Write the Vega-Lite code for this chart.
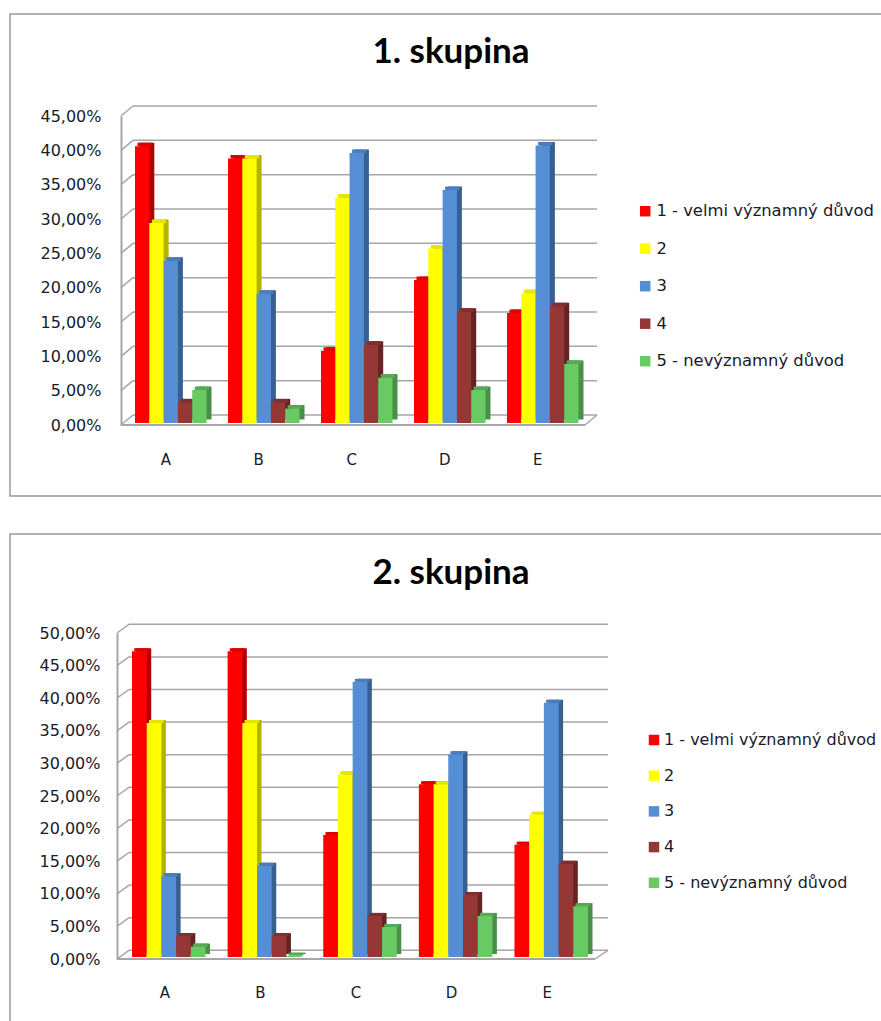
{"$schema":"https://vega.github.io/schema/vega-lite/v6.json","background":"white","padding":{"left":9,"top":13,"right":0,"bottom":0},"spacing":36,"config":{"view":{"stroke":"#9a9a9a","strokeWidth":1.5},"concat":{"spacing":36}},"datasets":{"g1":[{"group":"A","series":"1 - velmi významný důvod","value":40.3},{"group":"A","series":"2","value":29.1},{"group":"A","series":"3","value":23.6},{"group":"A","series":"4","value":3.0},{"group":"A","series":"5 - nevýznamný důvod","value":4.8},{"group":"B","series":"1 - velmi významný důvod","value":38.5},{"group":"B","series":"2","value":38.5},{"group":"B","series":"3","value":18.8},{"group":"B","series":"4","value":3.0},{"group":"B","series":"5 - nevýznamný důvod","value":2.1},{"group":"C","series":"1 - velmi významný důvod","value":10.5},{"group":"C","series":"2","value":32.8},{"group":"C","series":"3","value":39.3},{"group":"C","series":"4","value":11.4},{"group":"C","series":"5 - nevýznamný důvod","value":6.6},{"group":"D","series":"1 - velmi významný důvod","value":20.8},{"group":"D","series":"2","value":25.4},{"group":"D","series":"3","value":33.9},{"group":"D","series":"4","value":16.2},{"group":"D","series":"5 - nevýznamný důvod","value":4.8},{"group":"E","series":"1 - velmi významný důvod","value":16.0},{"group":"E","series":"2","value":18.9},{"group":"E","series":"3","value":40.4},{"group":"E","series":"4","value":17.0},{"group":"E","series":"5 - nevýznamný důvod","value":8.6}],"g2":[{"group":"A","series":"1 - velmi významný důvod","value":46.9},{"group":"A","series":"2","value":35.9},{"group":"A","series":"3","value":12.4},{"group":"A","series":"4","value":3.2},{"group":"A","series":"5 - nevýznamný důvod","value":1.6},{"group":"B","series":"1 - velmi významný důvod","value":46.9},{"group":"B","series":"2","value":35.9},{"group":"B","series":"3","value":14.0},{"group":"B","series":"4","value":3.2},{"group":"B","series":"5 - nevýznamný důvod","value":0.2},{"group":"C","series":"1 - velmi významný důvod","value":18.7},{"group":"C","series":"2","value":28.0},{"group":"C","series":"3","value":42.2},{"group":"C","series":"4","value":6.3},{"group":"C","series":"5 - nevýznamný důvod","value":4.6},{"group":"D","series":"1 - velmi významný důvod","value":26.5},{"group":"D","series":"2","value":26.5},{"group":"D","series":"3","value":31.1},{"group":"D","series":"4","value":9.5},{"group":"D","series":"5 - nevýznamný důvod","value":6.3},{"group":"E","series":"1 - velmi významný důvod","value":17.2},{"group":"E","series":"2","value":21.8},{"group":"E","series":"3","value":39.0},{"group":"E","series":"4","value":14.3},{"group":"E","series":"5 - nevýznamný důvod","value":7.8}],"t1":[{"tick":0},{"tick":5},{"tick":10},{"tick":15},{"tick":20},{"tick":25},{"tick":30},{"tick":35},{"tick":40},{"tick":45}],"t2":[{"tick":0},{"tick":5},{"tick":10},{"tick":15},{"tick":20},{"tick":25},{"tick":30},{"tick":35},{"tick":40},{"tick":45},{"tick":50}],"zero":[{"tick":0}]},"vconcat":[{"width":872,"height":482,"title":{"text":"1. skupina","font":"Lato","fontWeight":"bold","fontSize":35,"color":"#000000","anchor":"middle","dx":5,"baseline":"alphabetic","offset":-84},"resolve":{"scale":{"x":"independent","y":"independent","color":"independent","xOffset":"independent"}},"layer":[{"data":{"name":"t1"},"mark":{"type":"rule","stroke":"#a6a6a6","strokeWidth":1.5},"encoding":{"x":{"datum":0,"axis":null,"scale":{"domain":[0,1],"range":[123,587]}},"x2":{"datum":1},"y":{"field":"tick","type":"quantitative","axis":null,"scale":{"domain":[0,45],"range":[401,92]}}}},{"data":{"name":"t1"},"mark":{"type":"rule","stroke":"#a6a6a6","strokeWidth":1.5,"y2Offset":-10},"encoding":{"x":{"datum":0,"axis":null,"scale":{"domain":[0,1],"range":[111,123]}},"x2":{"datum":1},"y":{"field":"tick","type":"quantitative","scale":{"domain":[0,45],"range":[411,102]},"axis":{"title":null,"values":[0,5,10,15,20,25,30,35,40,45],"orient":"left","offset":-111,"labelExpr":"replace(format(datum.value,'.2f'),'.',',')+'%'","labelFont":"DejaVu Sans","labelFontSize":16,"labelColor":"#1a1a2a","labelPadding":20,"ticks":false,"grid":false,"domainColor":"#a6a6a6","domainWidth":2}},"y2":{"field":"tick"}}},{"data":{"name":"zero"},"mark":{"type":"rule","stroke":"#a6a6a6","strokeWidth":2},"encoding":{"x":{"datum":0,"axis":null,"scale":{"domain":[0,1],"range":[111,575]}},"x2":{"datum":1},"y":{"field":"tick","type":"quantitative","axis":null,"scale":{"domain":[0,45],"range":[411,102]}}}},{"data":{"name":"zero"},"mark":{"type":"rule","stroke":"#a6a6a6","strokeWidth":1.5,"y2Offset":-10},"encoding":{"x":{"datum":0,"axis":null,"scale":{"domain":[0,1],"range":[575,587]}},"x2":{"datum":1},"y":{"field":"tick","type":"quantitative","axis":null,"scale":{"domain":[0,45],"range":[411,102]}},"y2":{"field":"tick"}}},{"data":{"name":"g1"},"mark":{"type":"bar"},"encoding":{"x":{"field":"group","type":"nominal","axis":null,"scale":{"range":[130,573.5],"paddingInner":0.231,"paddingOuter":0}},"xOffset":{"field":"series","type":"nominal","sort":null,"scale":{"paddingInner":0,"paddingOuter":0}},"y":{"field":"value","type":"quantitative","axis":null,"scale":{"domain":[0,45],"range":[405.5,96.35]}},"y2":{"datum":0},"color":{"field":"series","type":"nominal","legend":null,"scale":{"range":["#b00000","#b3b300","#376092","#632523","#4a8f48"]}}}},{"data":{"name":"g1"},"mark":{"type":"bar","y2Offset":3.5},"encoding":{"x":{"field":"group","type":"nominal","axis":null,"scale":{"range":[127.5,571],"paddingInner":0.231,"paddingOuter":0}},"xOffset":{"field":"series","type":"nominal","sort":null,"scale":{"paddingInner":0,"paddingOuter":0}},"y":{"field":"value","type":"quantitative","axis":null,"scale":{"domain":[0,45],"range":[405.5,96.35]}},"y2":{"field":"value"},"color":{"field":"series","type":"nominal","legend":null,"scale":{"range":["#e00000","#e6e600","#4a7dbb","#7f2f2d","#57a857"]}}}},{"data":{"name":"g1"},"mark":{"type":"bar"},"encoding":{"x":{"field":"group","type":"nominal","title":null,"scale":{"range":[125,568.5],"paddingInner":0.231,"paddingOuter":0},"axis":{"orient":"bottom","offset":-71,"labelOffset":-5,"labelAngle":0,"labelPadding":27,"labelFont":"DejaVu Sans","labelFontSize":15,"labelColor":"#1a1a2a","ticks":false,"domain":false,"grid":false}},"xOffset":{"field":"series","type":"nominal","sort":null,"scale":{"paddingInner":0,"paddingOuter":0}},"y":{"field":"value","type":"quantitative","axis":null,"scale":{"domain":[0,45],"range":[409,99.85]}},"y2":{"datum":0},"color":{"field":"series","type":"nominal","scale":{"range":["#ff0000","#ffff00","#558ed5","#953735","#69c963"]},"legend":{"title":null,"orient":"none","legendX":627,"legendY":189,"symbolType":"square","symbolSize":110,"symbolStrokeWidth":0,"symbolOpacity":1,"rowPadding":20.5,"labelOffset":3,"labelFont":"DejaVu Sans","labelFontSize":16.4,"labelColor":"#1a1a2a","labelLimit":260}}}}]},{"width":872,"height":488,"title":{"text":"2. skupina","font":"Lato","fontWeight":"bold","fontSize":35,"color":"#000000","anchor":"middle","dx":5,"baseline":"alphabetic","offset":-85},"resolve":{"scale":{"x":"independent","y":"independent","color":"independent","xOffset":"independent"}},"layer":[{"data":{"name":"t2"},"mark":{"type":"rule","stroke":"#a6a6a6","strokeWidth":1.5},"encoding":{"x":{"datum":0,"axis":null,"scale":{"domain":[0,1],"range":[119,598]}},"x2":{"datum":1},"y":{"field":"tick","type":"quantitative","axis":null,"scale":{"domain":[0,50],"range":[416.3,90.3]}}}},{"data":{"name":"t2"},"mark":{"type":"rule","stroke":"#a6a6a6","strokeWidth":1.5,"y2Offset":-8.7},"encoding":{"x":{"datum":0,"axis":null,"scale":{"domain":[0,1],"range":[107,119]}},"x2":{"datum":1},"y":{"field":"tick","type":"quantitative","scale":{"domain":[0,50],"range":[425,99]},"axis":{"title":null,"values":[0,5,10,15,20,25,30,35,40,45,50],"orient":"left","offset":-107,"labelExpr":"replace(format(datum.value,'.2f'),'.',',')+'%'","labelFont":"DejaVu Sans","labelFontSize":16,"labelColor":"#1a1a2a","labelPadding":17,"ticks":false,"grid":false,"domainColor":"#a6a6a6","domainWidth":2}},"y2":{"field":"tick"}}},{"data":{"name":"zero"},"mark":{"type":"rule","stroke":"#a6a6a6","strokeWidth":2},"encoding":{"x":{"datum":0,"axis":null,"scale":{"domain":[0,1],"range":[107,585]}},"x2":{"datum":1},"y":{"field":"tick","type":"quantitative","axis":null,"scale":{"domain":[0,50],"range":[425,99]}}}},{"data":{"name":"zero"},"mark":{"type":"rule","stroke":"#a6a6a6","strokeWidth":1.5,"y2Offset":-8.7},"encoding":{"x":{"datum":0,"axis":null,"scale":{"domain":[0,1],"range":[585,598]}},"x2":{"datum":1},"y":{"field":"tick","type":"quantitative","axis":null,"scale":{"domain":[0,50],"range":[425,99]}},"y2":{"field":"tick"}}},{"data":{"name":"g2"},"mark":{"type":"bar"},"encoding":{"x":{"field":"group","type":"nominal","axis":null,"scale":{"range":[126.5,582.5],"paddingInner":0.231,"paddingOuter":0}},"xOffset":{"field":"series","type":"nominal","sort":null,"scale":{"paddingInner":0,"paddingOuter":0}},"y":{"field":"value","type":"quantitative","axis":null,"scale":{"domain":[0,50],"range":[420,94]}},"y2":{"datum":0},"color":{"field":"series","type":"nominal","legend":null,"scale":{"range":["#b00000","#b3b300","#376092","#632523","#4a8f48"]}}}},{"data":{"name":"g2"},"mark":{"type":"bar","y2Offset":3},"encoding":{"x":{"field":"group","type":"nominal","axis":null,"scale":{"range":[124.2,580.2],"paddingInner":0.231,"paddingOuter":0}},"xOffset":{"field":"series","type":"nominal","sort":null,"scale":{"paddingInner":0,"paddingOuter":0}},"y":{"field":"value","type":"quantitative","axis":null,"scale":{"domain":[0,50],"range":[420,94]}},"y2":{"field":"value"},"color":{"field":"series","type":"nominal","legend":null,"scale":{"range":["#e00000","#e6e600","#4a7dbb","#7f2f2d","#57a857"]}}}},{"data":{"name":"g2"},"mark":{"type":"bar"},"encoding":{"x":{"field":"group","type":"nominal","title":null,"scale":{"range":[122,578],"paddingInner":0.231,"paddingOuter":0},"axis":{"orient":"bottom","offset":-63,"labelOffset":-4,"labelAngle":0,"labelPadding":26,"labelFont":"DejaVu Sans","labelFontSize":15,"labelColor":"#1a1a2a","ticks":false,"domain":false,"grid":false}},"xOffset":{"field":"series","type":"nominal","sort":null,"scale":{"paddingInner":0,"paddingOuter":0}},"y":{"field":"value","type":"quantitative","axis":null,"scale":{"domain":[0,50],"range":[423,97]}},"y2":{"datum":0},"color":{"field":"series","type":"nominal","scale":{"range":["#ff0000","#ffff00","#558ed5","#953735","#69c963"]},"legend":{"title":null,"orient":"none","legendX":636,"legendY":198,"symbolType":"square","symbolSize":110,"symbolStrokeWidth":0,"symbolOpacity":1,"rowPadding":19.7,"labelOffset":2,"labelFont":"DejaVu Sans","labelFontSize":16,"labelColor":"#1a1a2a","labelLimit":260}}}}]}]}
